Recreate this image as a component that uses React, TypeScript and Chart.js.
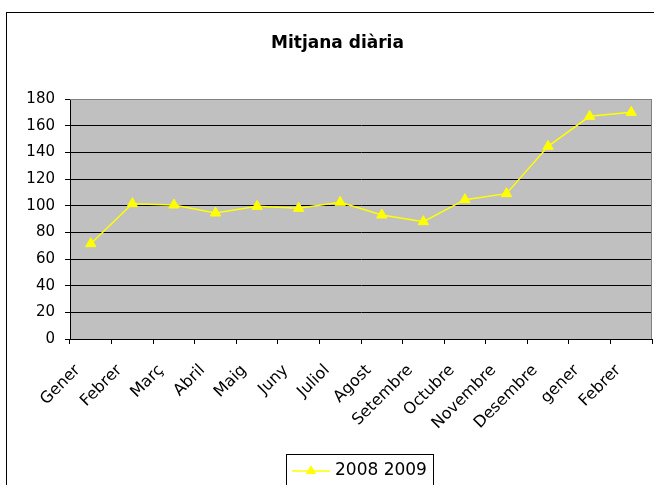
import React, { useEffect, useRef } from "react";
import { Chart, registerables } from "chart.js";

Chart.register(...registerables);

const TITLE = "Mitjana diària";
const SERIES_NAME = "2008 2009";
const MONTHS = [
  "Gener", "Febrer", "Març", "Abril", "Maig", "Juny", "Juliol",
  "Agost", "Setembre", "Octubre", "Novembre", "Desembre", "gener", "Febrer",
];
const VALUES = [71.5, 101.5, 100.5, 94.5, 99.5, 98, 102.5, 93, 88, 104.5, 109, 144.5, 167, 170];
const Y_MIN = 0;
const Y_MAX = 180;
const Y_STEP = 20;

const FONT = "'DejaVu Sans', sans-serif";
const YELLOW = "#FFFF00";
const PLOT_BG = "#C0C0C0";
const PLOT_EDGE = "#808080";

function triangle(ctx: CanvasRenderingContext2D, x: number, y: number, r: number) {
  let rad = 0;
  const step = (2 * Math.PI) / 3;
  ctx.beginPath();
  ctx.moveTo(x + Math.sin(rad) * r, y - Math.cos(rad) * r);
  rad += step;
  ctx.lineTo(x + Math.sin(rad) * r, y - Math.cos(rad) * r);
  rad += step;
  ctx.lineTo(x + Math.sin(rad) * r, y - Math.cos(rad) * r);
  ctx.closePath();
  ctx.fill();
}

export default function App() {
  const ref = useRef<HTMLCanvasElement>(null);

  useEffect(() => {
    const canvas = ref.current;
    if (!canvas) return;

    const decor = {
      id: "decor",
      beforeDraw(chart: any) {
        const { ctx, chartArea: a } = chart;
        ctx.save();
        ctx.fillStyle = "#FFFFFF";
        ctx.fillRect(0, 0, chart.width, chart.height);
        ctx.strokeStyle = "#000000";
        ctx.lineWidth = 1;
        ctx.strokeRect(6.5, 12.5, chart.width + 20, chart.height + 20);
        ctx.fillStyle = PLOT_BG;
        ctx.fillRect(a.left, a.top, a.right - a.left, a.bottom - a.top);
        ctx.restore();
      },
      afterDraw(chart: any) {
        const { ctx, chartArea: a } = chart;
        ctx.save();
        // plot area edges (top & right)
        ctx.strokeStyle = PLOT_EDGE;
        ctx.lineWidth = 1;
        ctx.beginPath();
        ctx.moveTo(a.left, Math.round(a.top) + 0.5);
        ctx.lineTo(Math.round(a.right) - 0.5, Math.round(a.top) + 0.5);
        ctx.lineTo(Math.round(a.right) - 0.5, a.bottom);
        ctx.stroke();

        // title
        ctx.fillStyle = "#000000";
        ctx.font = `bold 17px ${FONT}`;
        ctx.textAlign = "center";
        ctx.textBaseline = "alphabetic";
        ctx.fillText(TITLE, 337.5, 48);

        // legend box
        const lx = 286.5, ly = 454.5;
        ctx.strokeStyle = "#000000";
        ctx.strokeRect(lx, ly, 147, 60);
        ctx.strokeStyle = YELLOW;
        ctx.lineWidth = 1.5;
        ctx.beginPath();
        ctx.moveTo(292, 471);
        ctx.lineTo(330, 471);
        ctx.stroke();
        ctx.fillStyle = YELLOW;
        triangle(ctx, 311, 471, 6);
        ctx.fillStyle = "#000000";
        ctx.font = `17px ${FONT}`;
        ctx.textAlign = "left";
        ctx.textBaseline = "middle";
        ctx.fillText(SERIES_NAME, 335, 471);
        ctx.restore();
      },
    };

    const chart = new Chart(canvas, {
      type: "line",
      data: {
        labels: MONTHS,
        datasets: [
          {
            label: SERIES_NAME,
            data: VALUES,
            borderColor: YELLOW,
            backgroundColor: YELLOW,
            borderWidth: 1.5,
            pointStyle: "triangle",
            pointRadius: 6,
            pointBorderWidth: 1,
            pointBackgroundColor: YELLOW,
            pointBorderColor: YELLOW,
            tension: 0,
          },
        ],
      },
      options: {
        responsive: false,
        animation: false,
        devicePixelRatio: 1,
        layout: { padding: { top: 99, left: 0, right: 2, bottom: 46 }, autoPadding: false },
        plugins: {
          legend: { display: false },
          title: { display: false },
          tooltip: { enabled: false },
        },
        scales: {
          x: {
            type: "category",
            offset: true,
            grid: {
              display: true,
              offset: true,
              drawOnChartArea: false,
              drawTicks: true,
              tickLength: 5,
              color: "#000000",
              tickColor: "#000000",
            },
            border: { display: true, color: "#000000", width: 1 },
            ticks: {
              autoSkip: false,
              minRotation: 45,
              maxRotation: 45,
              padding: 17,
              labelOffset: -13,
              color: "#000000",
              font: { family: FONT, size: 16 },
            },
            afterFit(scale: any) {
              scale.height = 100;
              scale.paddingLeft = 0;
              scale.paddingRight = 0;
            },
          },
          y: {
            min: Y_MIN,
            max: Y_MAX,
            grid: {
              color: (c: any) => (c.tick && c.tick.value === Y_MAX ? PLOT_EDGE : "#000000"),
              tickColor: "#000000",
              tickLength: 5,
              lineWidth: 1,
            },
            border: { display: true, color: "#000000", width: 1 },
            ticks: {
              stepSize: Y_STEP,
              padding: 10,
              color: "#000000",
              font: { family: FONT, size: 15 },
            },
            afterFit(scale: any) {
              scale.width = 70;
              scale.paddingTop = 0;
              scale.paddingBottom = 0;
            },
          },
        },
      },
      plugins: [decor],
    });

    return () => chart.destroy();
  }, []);

  return (
    <div style={{ position: "absolute", left: 0, top: 0, width: 654, height: 485, background: "#fff" }}>
      <canvas ref={ref} width={654} height={485} style={{ display: "block" }} />
    </div>
  );
}
